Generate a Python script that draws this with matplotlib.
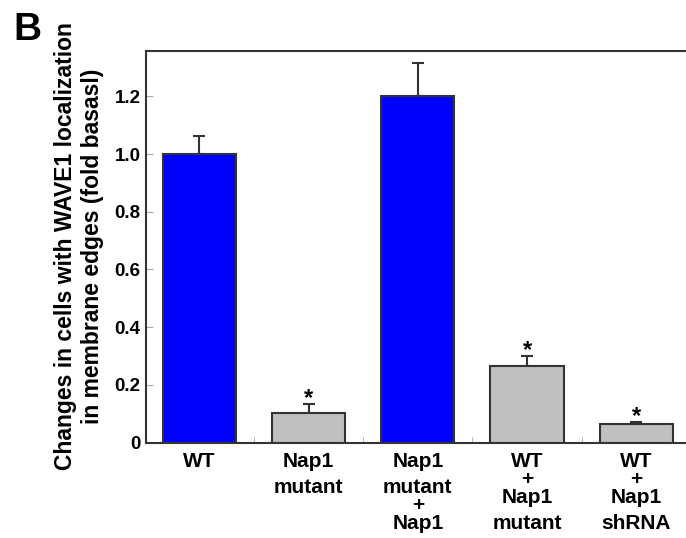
import matplotlib
matplotlib.use("Agg")
import matplotlib.pyplot as plt
import numpy as np

plt.rcParams['font.family'] = ['Liberation Sans', 'DejaVu Sans']
plt.rcParams['font.weight'] = 'bold'

categories = [["WT"],
              ["Nap1", "mutant"],
              ["Nap1", "mutant", "+", "Nap1"],
              ["WT", "+", "Nap1", "mutant"],
              ["WT", "+", "Nap1", "shRNA"]]
values = [1.0, 0.103, 1.20, 0.265, 0.063]
errors = [0.062, 0.032, 0.114, 0.035, 0.007]
significant = [False, True, False, True, True]
bar_colors = ["#0000ff", "#c0c0c0", "#0000ff", "#c0c0c0", "#c0c0c0"]
ylabel = "Changes in cells with WAVE1 localization\nin membrane edges (fold basasl)"

fig = plt.figure(figsize=(6.86, 5.38), dpi=100)
ax = fig.add_axes([0.2128, 0.1775, 0.7872, 0.7286])

x = np.arange(len(categories))
ax.bar(x, values, width=0.67, color=bar_colors, edgecolor="#333333", linewidth=1.5, zorder=2)
ax.errorbar(x, values, yerr=[np.zeros(len(values)), errors], fmt="none",
            ecolor="#333333", elinewidth=1.5, capsize=4, capthick=1.5, zorder=1)

# asterisks just above the error caps
for xi, v, e, s in zip(x, values, errors, significant):
    if s:
        ax.annotate("*", xy=(xi, v + e), xytext=(0, -1), textcoords="offset pixels",
                    ha="center", va="baseline", fontsize=17, fontweight="bold")

ax.set_xlim(-0.49, 4.456)
ax.set_ylim(0, 1.359)

ax.set_yticks([0, 0.2, 0.4, 0.6, 0.8, 1.0, 1.2])
ax.set_yticklabels(["0", "0.2", "0.4", "0.6", "0.8", "1.0", "1.2"], fontsize=13.5, fontweight="bold")
ax.tick_params(axis="y", direction="in", length=5, color="#aaaaaa", pad=4)

ax.set_xticks(x)
ax.tick_params(axis="x", which="major", length=0, labelbottom=False)
ax.set_xticks(x[:-1] + 0.5, minor=True)
ax.tick_params(axis="x", which="minor", direction="in", length=4, color="#aaaaaa")

# category labels, line by line ("+" lines are tighter)
for xi, lines in zip(x, categories):
    y = -24
    for i, line in enumerate(lines):
        if i > 0:
            y -= 18 if (line == "+" or lines[i - 1] == "+") else 26.7
        ax.annotate(line, xy=(xi, 0), xycoords=("data", "axes fraction"),
                    xytext=(0, y), textcoords="offset pixels",
                    ha="center", va="baseline", fontsize=15, fontweight="bold")

ax.spines["right"].set_visible(False)
for sp in ["left", "top", "bottom"]:
    ax.spines[sp].set_linewidth(1.5)
    ax.spines[sp].set_color("#333333")

fig.text(0.115, 0.543, ylabel, rotation=90, ha="center", va="center",
         fontsize=16.5, fontweight="bold", linespacing=1.22)
fig.text(0.019, 1 - 40 / 538, "B", fontsize=28, fontweight="bold", ha="left", va="baseline")

fig.savefig("out.png", dpi=100)
